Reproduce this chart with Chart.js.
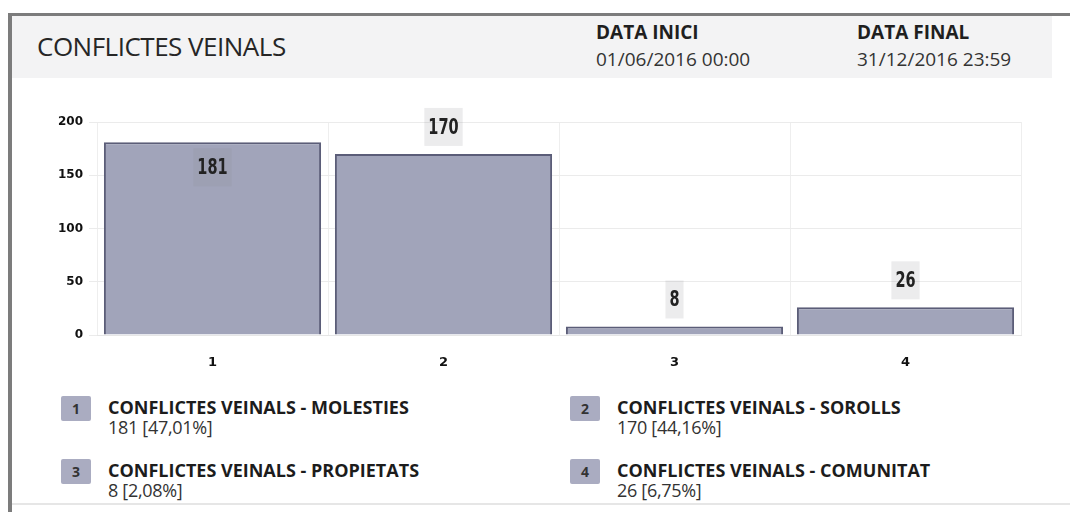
<!DOCTYPE html>
<html>
<head>
<meta charset="utf-8">
<script src="https://cdn.jsdelivr.net/npm/chart.js@4.4.1/dist/chart.umd.min.js"></script>
<style>
  body { margin: 0; width: 1070px; height: 512px; background: #fff; position: relative; overflow: hidden; font-family: 'Open Sans', sans-serif; color: #2e2e2e; }
  #frame { position: absolute; left: 8px; top: 13px; width: 1070px; height: 520px; border-left: 4px solid #7c7c7c; border-top: 3px solid #7c7c7c; }
  #head { position: absolute; left: 12px; top: 16px; width: 1040px; height: 62px; background: #f3f3f4; }
  #title { position: absolute; left: 37px; top: 28px; font-size: 26px; letter-spacing: -0.5px; color: #262626; }
  .dlab { position: absolute; top: 19px; font-size: 19px; font-weight: bold; color: #1f1f1f; }
  .dval { position: absolute; top: 46px; font-size: 19px; color: #333; }
  #bottomline { position: absolute; left: 12px; top: 503px; width: 1058px; height: 2px; background: #e6e6e6; }
  #chartBox { position: absolute; left: 0; top: 100px; width: 1070px; height: 280px; }
  .sw { position: absolute; width: 30px; height: 25px; background: #aaacc1; border-radius: 2px; color: #333; font-weight: bold; font-size: 14px; text-align: center; line-height: 25px; }
  .lt { position: absolute; font-size: 18px; font-weight: bold; color: #1c1c1c; line-height: 20px; white-space: nowrap; }
  .lv { position: absolute; font-size: 18px; color: #333; line-height: 20px; white-space: nowrap; letter-spacing: -0.3px; }
</style>
</head>
<body>
<div id="frame"></div>
<div id="head"></div>
<div id="title">CONFLICTES VEINALS</div>
<div class="dlab" style="left:596px">DATA INICI</div>
<div class="dval" style="left:596px">01/06/2016 00:00</div>
<div class="dlab" style="left:857px">DATA FINAL</div>
<div class="dval" style="left:857px">31/12/2016 23:59</div>
<div id="bottomline"></div>
<div id="chartBox"><canvas id="chart"></canvas></div>
<div id="legend"></div>

<script>
const categories = ['1', '2', '3', '4'];
const names = [
  'CONFLICTES VEINALS - MOLESTIES',
  'CONFLICTES VEINALS - SOROLLS',
  'CONFLICTES VEINALS - PROPIETATS',
  'CONFLICTES VEINALS - COMUNITAT'
];
const counts = [181, 170, 8, 26];
const yTicks = [0, 50, 100, 150, 200];

// value boxes above (or inside, when there is no room) each bar
const valueBoxes = {
  id: 'valueBoxes',
  afterDatasetsDraw(chart) {
    const ctx = chart.ctx;
    const meta = chart.getDatasetMeta(0);
    const sx = 0.66;
    ctx.save();
    ctx.font = 'bold 22px "DejaVu Sans", sans-serif';
    ctx.textAlign = 'center';
    ctx.textBaseline = 'middle';
    meta.data.forEach((bar, i) => {
      const txt = String(counts[i]);
      let cy = bar.y - 27;
      if (cy < chart.chartArea.top) cy = bar.y + 25;
      const w = ctx.measureText(txt).width * sx + 8, h = 38;
      ctx.fillStyle = 'rgba(140,140,148,0.17)';
      ctx.fillRect(bar.x - w / 2, cy - h / 2, w, h);
      ctx.save();
      ctx.translate(bar.x, cy + 1);
      ctx.scale(sx, 1);
      ctx.fillStyle = '#222';
      ctx.fillText(txt, 0, 0);
      ctx.restore();
    });
    ctx.restore();
  }
};

const ctx = document.getElementById('chart').getContext('2d');
new Chart(ctx, {
  type: 'bar',
  data: {
    labels: categories,
    datasets: [{
      data: counts,
      backgroundColor: '#a1a4ba',
      borderColor: '#5b5d78',
      borderWidth: { top: 2, left: 2, right: 2, bottom: 0 },
      borderSkipped: 'start',
      barPercentage: 0.94,
      categoryPercentage: 1
    }]
  },
  options: {
    responsive: true,
    maintainAspectRatio: false,
    animation: false,
    layout: { padding: { left: 20, right: 49, top: 22, bottom: 0 } },
    plugins: { legend: { display: false }, tooltip: { enabled: false } },
    scales: {
      x: {
        grid: { color: '#eeeeee', drawTicks: false },
        border: { color: '#e6e6e6' },
        ticks: { color: '#111', padding: 20, font: { family: 'DejaVu Sans', weight: 'bold', size: 13 } },
        afterFit: (s) => { s.height = 45; }
      },
      y: {
        min: yTicks[0],
        max: yTicks[yTicks.length - 1],
        afterBuildTicks: (s) => { s.ticks = yTicks.map(v => ({ value: v })); },
        grid: { color: '#ebebeb', tickLength: 8 },
        border: { display: false },
        ticks: { color: '#111', padding: 6, font: { family: 'DejaVu Sans', weight: 'bold', size: 12 } },
        afterFit: (s) => { s.width = 77; }
      }
    }
  },
  plugins: [valueBoxes]
});

// legend below the chart, two columns
const total = counts.reduce((a, b) => a + b, 0);
const legend = document.getElementById('legend');
const colX = [61, 570];
const rowY = [396, 459];
names.forEach((name, i) => {
  const x = colX[i % 2], y = rowY[Math.floor(i / 2)];
  const pct = (counts[i] / total * 100).toFixed(2).replace('.', ',');
  legend.insertAdjacentHTML('beforeend',
    `<div class="sw" style="left:${x}px;top:${y}px">${categories[i]}</div>` +
    `<div class="lt" style="left:${x + 47}px;top:${y + 1}px">${name}</div>` +
    `<div class="lv" style="left:${x + 47}px;top:${y + 21}px">${counts[i]} [${pct}%]</div>`);
});
</script>
</body>
</html>
